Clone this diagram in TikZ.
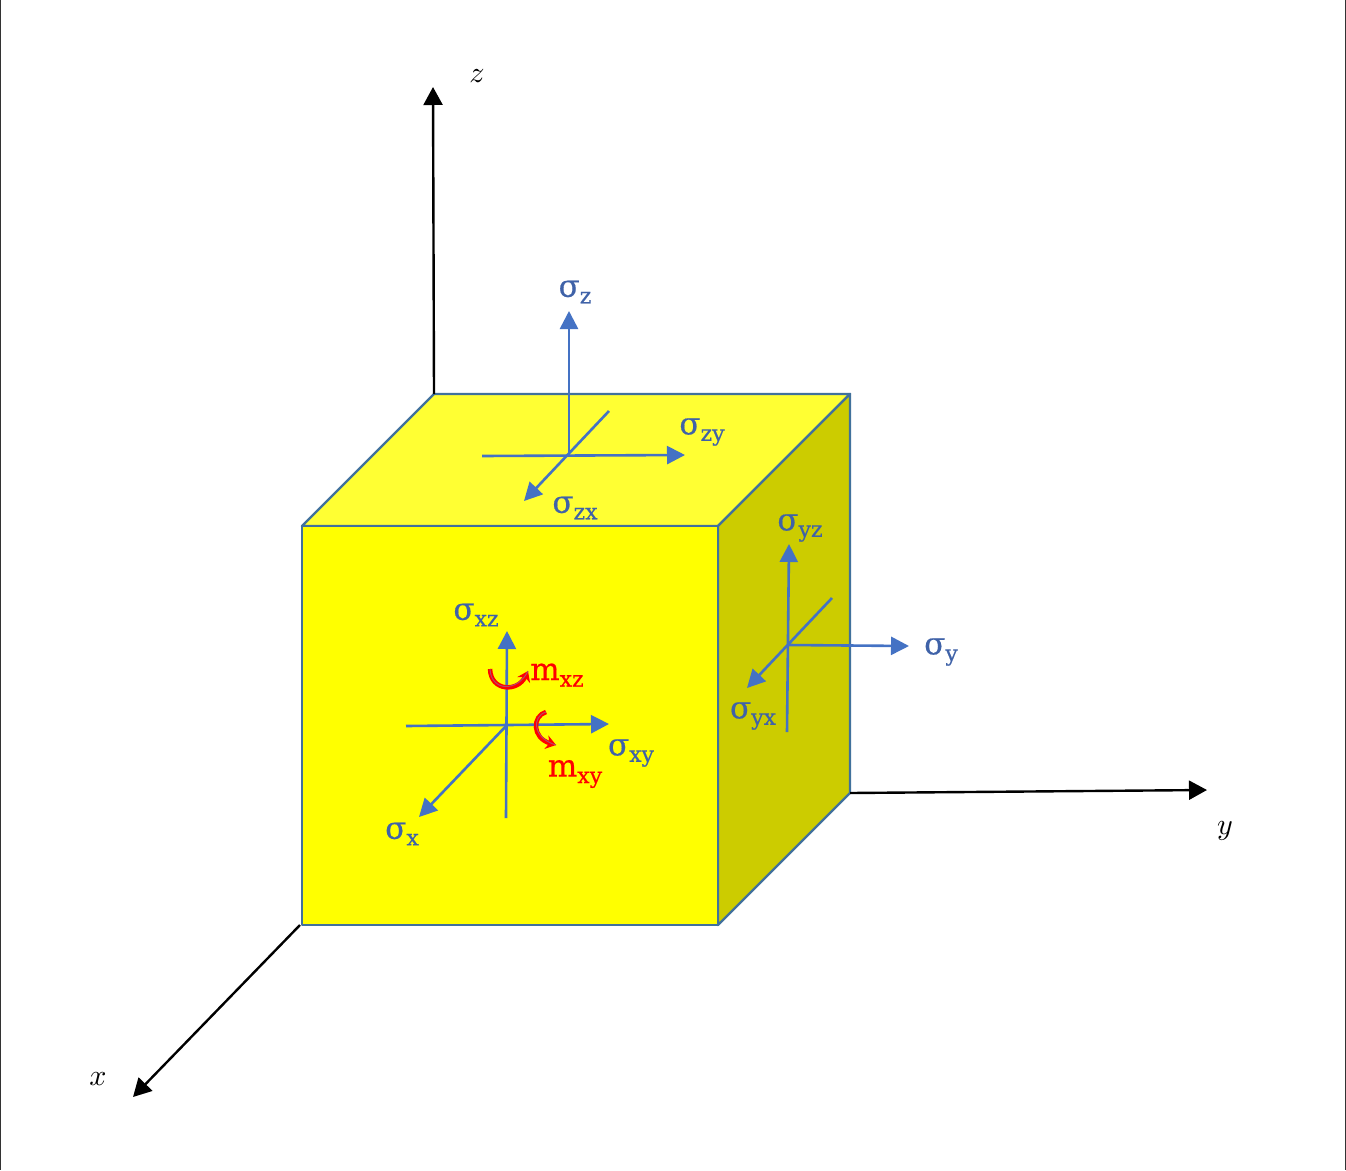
\documentclass[tikz,border=0pt]{standalone}
\usepackage{fontspec}
\setmainfont{DejaVu Serif}
\newfontfamily\lblfont[FakeBold=0.5]{DejaVu Serif}
\usetikzlibrary{arrows.meta}
\definecolor{edgeblue}{HTML}{41719C}
\definecolor{arrowblue}{HTML}{4472C4}
\definecolor{labelblue}{HTML}{3F62A8}
\definecolor{frontyellow}{HTML}{FFFF00}
\definecolor{topyellow}{HTML}{FFFF33}
\definecolor{sideyellow}{HTML}{CCCC00}
\definecolor{momentred}{HTML}{FF0000}
\definecolor{momentcore}{HTML}{B04A6A}
\newcommand{\lowidx}[1]{\raisebox{-6.5pt}{\fontsize{22}{22}\selectfont #1}}
\newcommand{\axletter}[1]{\scalebox{3}{$#1$}}
\tikzset{
  face/.style={draw=edgeblue,line width=2.4pt,line join=round},
  axisline/.style={draw=black,line width=2.4pt,-{Triangle[length=18pt,width=19pt]}},
  force/.style={draw=arrowblue,line width=2.6pt,-{Triangle[length=18pt,width=18pt]}},
  moment/.style={draw=momentred,line width=4.5pt,-{Stealth[length=10pt,width=14pt]}},
  momentinner/.style={draw=momentcore,line width=1pt},
  forcelabel/.style={text=labelblue,font=\lblfont\fontsize{31}{31}\selectfont,inner sep=0pt},
  momentlabel/.style={text=momentred,font=\lblfont\fontsize{31}{31}\selectfont,inner sep=0pt},
  axislabel/.style={text=black,inner sep=0pt},
  frameline/.style={draw=black!80,line width=1.5pt}
}
\begin{document}
\begin{tikzpicture}[x=1pt,y=-1pt]
\useasboundingbox (0,0) rectangle (1346,1170);
\fill[white] (0,0) rectangle (1346,1170);
\coordinate (fl0) at (0.7,0); \coordinate (fl1) at (0.7,1170);
\coordinate (fr0) at (1345.3,0); \coordinate (fr1) at (1345.3,1170);
\draw[frameline] (fl0) -- (fl1);
\draw[frameline] (fr0) -- (fr1);
% cube corners
\coordinate (A) at (302,526); \coordinate (B) at (718,526);
\coordinate (C) at (718,925); \coordinate (D) at (302,925);
\coordinate (E) at (434,394); \coordinate (F) at (850,394);
\coordinate (G) at (850,793);
\filldraw[face,fill=topyellow] (A) -- (E) -- (F) -- (B) -- cycle;
\filldraw[face,fill=sideyellow] (B) -- (F) -- (G) -- (C) -- cycle;
\filldraw[face,fill=frontyellow] (A) -- (B) -- (C) -- (D) -- cycle;
% axes
\coordinate (zt) at (433,87); \coordinate (yt) at (1207,790); \coordinate (xt) at (133,1097);
\coordinate (xs) at (300,925);
\draw[axisline] (E) -- (zt);
\draw[axisline] (G) -- (yt);
\draw[axisline] (xs) -- (xt);
\node[axislabel] (lz) at (477,76) {\axletter{z}};
\node[axislabel] (ly) at (1225,831) {\axletter{y}};
\node[axislabel] (lx) at (98,1079) {\axletter{x}};
% top face
\coordinate (t0) at (569,455); \coordinate (t1) at (569,311);
\coordinate (t2) at (482,456); \coordinate (t3) at (685,455);
\coordinate (t4) at (609,411); \coordinate (t5) at (524,501);
\draw[force] (t0) -- (t1);
\draw[force] (t2) -- (t3);
\draw[force] (t4) -- (t5);
\node[forcelabel] (sz) at (575,292) {σ\lowidx{z}};
\node[forcelabel] (szy) at (702,432) {σ\lowidx{zy}};
\node[forcelabel] (szx) at (575,508) {σ\lowidx{zx}};
% front face
\coordinate (f0) at (506,818); \coordinate (f1) at (507,631);
\coordinate (f2) at (406,726); \coordinate (f3) at (609,724);
\coordinate (f4) at (507,725); \coordinate (f5) at (419,817);
\draw[force] (f0) -- (f1);
\draw[force] (f2) -- (f3);
\draw[force] (f4) -- (f5);
\node[forcelabel] (sxz) at (476,615) {σ\lowidx{xz}};
\node[forcelabel] (sxy) at (631,753) {σ\lowidx{xy}};
\node[forcelabel] (sx) at (402,834) {σ\lowidx{x}};
% side face
\coordinate (s0) at (787,732); \coordinate (s1) at (789,544);
\coordinate (s2) at (788,645); \coordinate (s3) at (909,646);
\coordinate (s4) at (832,598); \coordinate (s5) at (747,688);
\draw[force] (s0) -- (s1);
\draw[force] (s2) -- (s3);
\draw[force] (s4) -- (s5);
\node[forcelabel] (syz) at (800,528) {σ\lowidx{yz}};
\node[forcelabel] (sy) at (941,652) {σ\lowidx{y}};
\node[forcelabel] (syx) at (753,716) {σ\lowidx{yx}};
% moments
\coordinate (m0) at (490,669); \coordinate (m1) at (528,671);
\coordinate (m2) at (546,712); \coordinate (m3) at (556,745);
\draw[moment] (m0) .. controls (491,692) and (518,692) .. (m1);
\draw[moment] (m2) .. controls (532,716) and (532,738) .. (m3);
\draw[momentinner] (m0) .. controls (491,692) and (518,692) .. (m1);
\draw[momentinner] (m2) .. controls (532,716) and (532,738) .. (m3);
\node[momentlabel] (mxz) at (557,675) {m\lowidx{xz}};
\node[momentlabel] (mxy) at (575,774) {m\lowidx{xy}};
\end{tikzpicture}
\end{document}
